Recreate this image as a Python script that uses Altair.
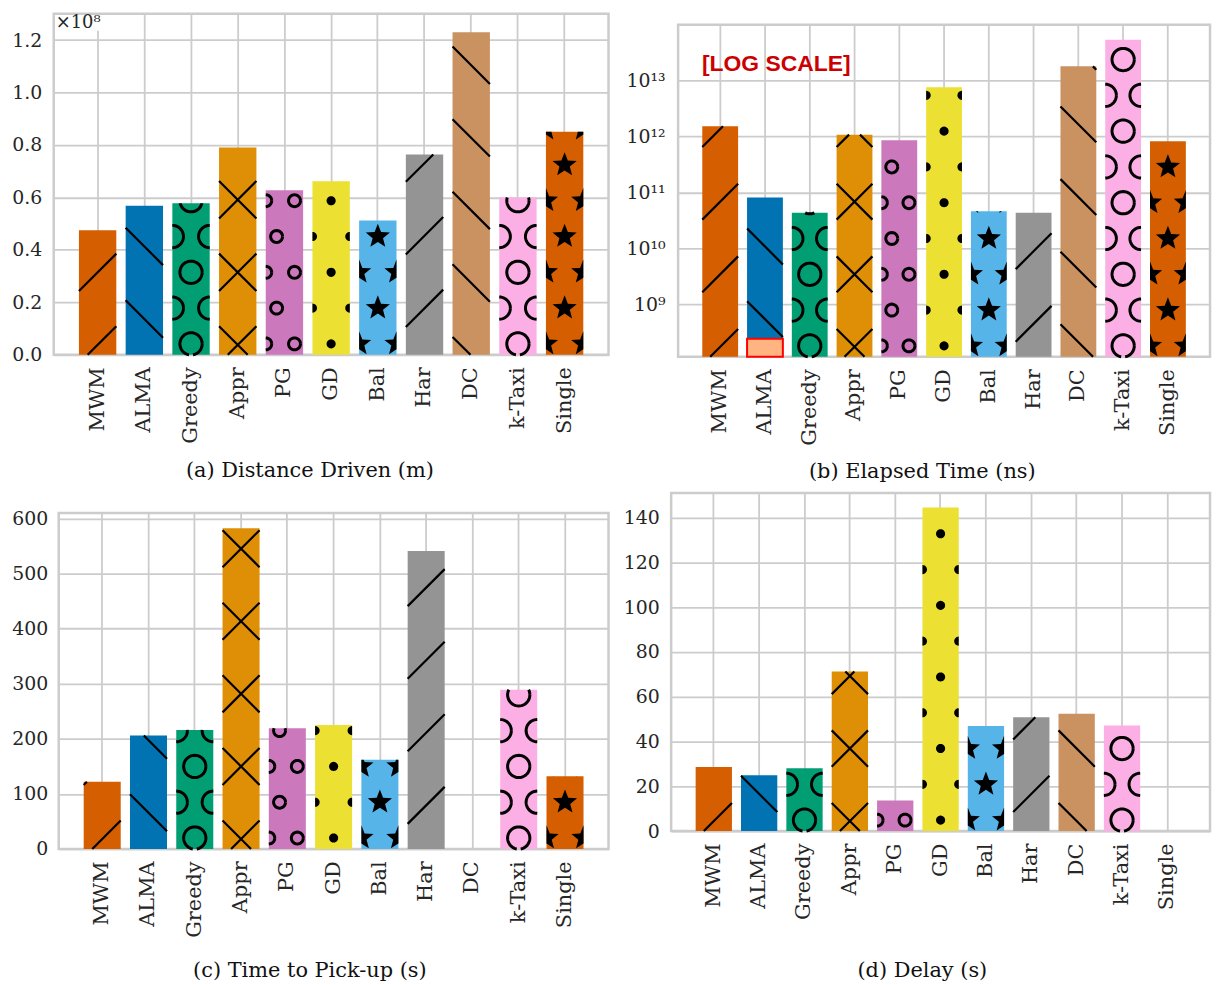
import math
import altair as alt
import pandas as pd

# ---------------- data ----------------
categories = ["MWM", "ALMA", "Greedy", "Appr", "PG", "GD", "Bal", "Har", "DC", "k-Taxi", "Single"]
bar_colors = ["#d55e00", "#0173b2", "#029e73", "#de8f05", "#cc78bc", "#ece133",
              "#56b4e9", "#949494", "#ca9161", "#fbafe4", "#d55e00"]
hatch_kinds = ["/", "\\", "O", "x", "o", ".", "*", "/", "\\", "O", "*"]

distance_1e8_m = [0.475, 0.568, 0.578, 0.79, 0.627, 0.662, 0.512, 0.764, 1.23, 0.60, 0.85]
elapsed_ns = [1.52e12, 8.1e10, 4.3e10, 1.08e12, 8.6e11, 7.6e12, 4.6e10, 4.3e10, 1.8e13, 5.4e13, 8.2e11]
alma_extra_cat = ["ALMA"]
alma_extra_ns = [2.4e8]
pickup_s = [122, 206, 216, 582, 219, 225, 162, 541, 0, 289, 132]
delay_s = [28.6, 24.9, 28.1, 71.3, 13.7, 144.5, 46.9, 50.8, 52.4, 47.2, 0]

captions = ["(a) Distance Driven (m)", "(b) Elapsed Time (ns)",
            "(c) Time to Pick-up (s)", "(d) Delay (s)"]

FONT = "DejaVu Serif"
GRID = "#cccccc"
LABEL_COLOR = "#262626"
N = len(categories)
PAD_IN, PAD_OUT = 0.2, 0.54

# hatch geometry (pixels)
LINE_SP, LINE_PHASE = 73.0, 10.0
ROW_A, ROW_B, ROW_SP = 11.0, 47.0, 72.0


def clip_segment(p, q, rect):
    xmin, xmax, ymin, ymax = rect
    x0, y0 = p
    x1, y1 = q
    dx, dy = x1 - x0, y1 - y0
    t0, t1 = 0.0, 1.0
    for pp, qq in ((-dx, x0 - xmin), (dx, xmax - x0), (-dy, y0 - ymin), (dy, ymax - y0)):
        if pp == 0:
            if qq < 0:
                return None
        else:
            t = qq / pp
            if pp < 0:
                if t > t1:
                    return None
                t0 = max(t0, t)
            else:
                if t < t0:
                    return None
                t1 = min(t1, t)
    if t1 - t0 < 1e-9:
        return None
    return (x0 + t0 * dx, y0 + t0 * dy), (x0 + t1 * dx, y0 + t1 * dy)


def clip_poly(pts, rect):
    xmin, xmax, ymin, ymax = rect

    def ix(xv):
        return lambda p, q: (xv, p[1] + (q[1] - p[1]) * (xv - p[0]) / (q[0] - p[0]))

    def iy(yv):
        return lambda p, q: (p[0] + (q[0] - p[0]) * (yv - p[1]) / (q[1] - p[1]), yv)

    tests = ((lambda p: p[0] >= xmin, ix(xmin)), (lambda p: p[0] <= xmax, ix(xmax)),
             (lambda p: p[1] >= ymin, iy(ymin)), (lambda p: p[1] <= ymax, iy(ymax)))
    for inside, inter in tests:
        if not pts:
            break
        out = []
        for k in range(len(pts)):
            cur, prev = pts[k], pts[k - 1]
            if inside(cur):
                if not inside(prev):
                    out.append(inter(prev, cur))
                out.append(cur)
            elif inside(prev):
                out.append(inter(prev, cur))
        pts = out
    return pts


def fmt(p):
    return f"{p[0]:.2f},{-p[1]:.2f}"


def polyline_path(pts, rect):
    out, last = [], None
    for a, b in zip(pts[:-1], pts[1:]):
        seg = clip_segment(a, b, rect)
        if seg is None:
            last = None
            continue
        s, e = seg
        if last is not None and abs(last[0] - s[0]) < 1e-6 and abs(last[1] - s[1]) < 1e-6:
            out.append("L" + fmt(e))
        else:
            out.append("M" + fmt(s) + "L" + fmt(e))
        last = e
    return "".join(out)


def poly_path(pts, rect):
    c = clip_poly(pts, rect)
    if len(c) < 3:
        return ""
    return "M" + "L".join(fmt(p) for p in c) + "Z"


def ellipse(cx, cy, rx, ry, n=48):
    return [(cx + rx * math.cos(2 * math.pi * k / n), cy + ry * math.sin(2 * math.pi * k / n))
            for k in range(n + 1)]


def star(cx, cy, R, r):
    pts = []
    for k in range(10):
        ang = math.pi / 2 + k * math.pi / 5
        rad = R if k % 2 == 0 else r
        pts.append((cx + rad * math.cos(ang), cy + rad * math.sin(ang)))
    return pts


def hatch_paths(kind, i, bw, bh, step):
    if bh <= 0.5:
        return "", "", ""
    half = bw / 2
    rect = (-half, half, 0.0, bh)
    lines, rings, fills = [], [], []
    if kind in ("/", "\\", "x"):
        g = 0.0 if kind == "x" else i * step
        dirs = {"/": [1], "\\": [-1], "x": [1, -1]}[kind]
        for sgn in dirs:
            for k in range(-60, 60):
                c = LINE_PHASE + LINE_SP * k
                a = (-half - 2, sgn * (-half - 2 + g) + c)
                b = (half + 2, sgn * (half + 2 + g) + c)
                seg = clip_segment(a, b, rect)
                if seg:
                    lines.append("M" + fmt(seg[0]) + "L" + fmt(seg[1]))
    else:
        rows = []
        k = 0
        while True:
            va, vb = ROW_A + ROW_SP * k, ROW_B + ROW_SP * k
            if va - 14 > bh:
                break
            rows.append(("A", va))
            if vb - 14 <= bh:
                rows.append(("B", vb))
            k += 1
        for kindrow, v in rows:
            if kind == "O":
                us = [0.0] if kindrow == "A" else [-half, half]
                for u in us:
                    rings.append(polyline_path(ellipse(u, v, 11.2, 11.2), rect))
            elif kind == "o":
                us = [0.27 * bw, -half] if kindrow == "A" else [-0.21 * bw]
                for u in us:
                    rings.append(polyline_path(ellipse(u, v, 6.0, 6.0, 32), rect))
            elif kind == ".":
                us = [0.0] if kindrow == "A" else [-half, half]
                for u in us:
                    fills.append(poly_path(ellipse(u, v, 4.6, 4.6, 24)[:-1], rect))
            elif kind == "*":
                us = [-half, half] if kindrow == "A" else [0.0]
                for u in us:
                    fills.append(poly_path(star(u, v, 12.8, 5.5), rect))
    return "".join(lines), "".join(rings), "".join(fills)


def blank():
    return pd.DataFrame({"a": [0]})


def build_panel(values, caption, width, height, vis_domain, ticks, log=False,
                x0=0.0, y0=0.0, extent=44, lab_pad=12, xlab_pad=12, cap_offset=22, cap_dx=0,
                extra_before=None, extra_after=None, label_format=None, label_expr=None):
    """Plot area is width x height; the visible frame is inset by x0 (left) and y0 (top)."""
    vis_h = height - y0
    if log:
        l0, l1 = math.log10(vis_domain[0]), math.log10(vis_domain[1])
        top = 10 ** (l1 + y0 * (l1 - l0) / vis_h)
        domain = [vis_domain[0], top]
    else:
        domain = [vis_domain[0], vis_domain[1] * height / vis_h]
    step = (width - x0) / (N - PAD_IN + 2 * PAD_OUT)
    bw = step * (1 - PAD_IN)
    base = domain[0] if log else 0.0
    rows = []
    for i, (c, v, col, k) in enumerate(zip(categories, values, bar_colors, hatch_kinds)):
        if log:
            bh = (math.log10(v) - math.log10(domain[0])) / (math.log10(domain[1]) - math.log10(domain[0])) * height
        else:
            bh = v / domain[1] * height
        ln, rg, fl = hatch_paths(k, i, bw, bh, step)
        rows.append(dict(cat=c, val=v, base=base, color=col, pline=ln, pring=rg, pfill=fl))
    df = pd.DataFrame(rows)

    xenc = alt.X("cat:N", sort=categories,
                 scale=alt.Scale(paddingInner=PAD_IN, paddingOuter=PAD_OUT, round=False,
                                 range=[x0, width]),
                 axis=alt.Axis(title=None, labelAngle=-90, labelFont=FONT, labelFontSize=21,
                               labelColor=LABEL_COLOR, labelPadding=xlab_pad, domain=False,
                               ticks=False, tickSize=0, grid=True, gridColor=GRID, gridWidth=1.8,
                               bandPosition=0.5))
    if log:
        yscale = alt.Scale(type="log", domain=domain, nice=False)
    else:
        yscale = alt.Scale(domain=domain, nice=False, zero=True)
    ax_kw = dict(title=None, values=ticks, labelFont=FONT, labelFontSize=19, labelColor=LABEL_COLOR,
                 labelPadding=lab_pad, domain=False, ticks=False, tickSize=0, grid=True,
                 gridColor=GRID, gridWidth=1.8, minExtent=extent, maxExtent=extent)
    if label_format:
        ax_kw["format"] = label_format
    if label_expr:
        ax_kw["labelExpr"] = label_expr
    yaxis = alt.Axis(**ax_kw)

    def yenc(field):
        return alt.Y(f"{field}:Q", scale=yscale, axis=yaxis)

    bars = alt.Chart(df).mark_bar(strokeWidth=0).encode(
        x=xenc, y=yenc("val"), y2=alt.Y2("base:Q"), color=alt.Color("color:N", scale=None))
    layers = []

    # white-out of the inset margins (hides grid lines outside the visible frame)
    if y0 > 0:
        layers.append(alt.Chart(blank()).mark_rect(color="white").encode(
            x=alt.value(0), x2=alt.value(width), y=alt.value(0), y2=alt.value(y0)))
    if x0 > 0:
        layers.append(alt.Chart(blank()).mark_rect(color="white").encode(
            x=alt.value(0), x2=alt.value(x0), y=alt.value(0), y2=alt.value(height)))
    # frame
    layers.append(alt.Chart(blank()).mark_rect(fillOpacity=0, stroke=GRID, strokeWidth=2.5).encode(
        x=alt.value(x0), x2=alt.value(width), y=alt.value(y0), y2=alt.value(height)))
    layers.append(bars)

    if extra_before is not None:
        layers += extra_before(xenc, yenc, domain)

    for field, filled, sw in (("pline", False, 2.2), ("pring", False, 3.0), ("pfill", True, 0)):
        sub = df[df[field] != ""]
        if len(sub) == 0:
            continue
        mk = alt.Chart(sub).mark_point(filled=filled, opacity=1, color="black",
                                       strokeWidth=sw, size=4)
        layers.append(mk.encode(x=xenc, y=yenc("base"),
                                shape=alt.Shape(f"{field}:N", scale=None)))
    if extra_after is not None:
        layers += extra_after()

    return alt.layer(*layers).properties(
        width=width, height=height,
        view=alt.ViewBackground(stroke="transparent"),
        title=alt.TitleParams(caption, orient="bottom", frame="bounds", anchor="middle",
                              font=FONT, fontSize=21, fontWeight="normal", color="#111111",
                              offset=cap_offset, dx=cap_dx))


# ---------- panel (a) ----------
def a_after():
    rect = alt.Chart(blank()).mark_rect(color="white").encode(
        x=alt.value(1.5), x2=alt.value(51), y=alt.value(1.3), y2=alt.value(17))
    txt = alt.Chart(pd.DataFrame({"t": ["×10⁸"]})).mark_text(
        align="left", baseline="middle", font=FONT, fontSize=18, color=LABEL_COLOR).encode(
        text="t:N", x=alt.value(2), y=alt.value(9))
    return [rect, txt]


panel_a = build_panel(distance_1e8_m, captions[0], 558, 343, [0, 1.3],
                      [0, 0.2, 0.4, 0.6, 0.8, 1.0, 1.2], extent=44, lab_pad=12,
                      label_format=".1f", extra_after=a_after, cap_offset=17)

# ---------- panel (b) ----------
E = "round(log(datum.value)/LN10)"
sups = {9: "⁹", 10: "¹⁰", 11: "¹¹", 12: "¹²", 13: "¹³"}
log_expr = "'10' + (" + "".join(f"{E}=={k}?'{v}':" for k, v in sups.items()) + "'')"
b_vis_domain = [1.14e8, 1e14]


def b_before(xenc, yenc, domain):
    d = pd.DataFrame({"cat": alma_extra_cat, "val": alma_extra_ns, "base": [domain[0]]})
    return [alt.Chart(d).mark_bar(fill="#ffb482", stroke="#ff0000", strokeWidth=2).encode(
        x=xenc, y=yenc("val"), y2=alt.Y2("base:Q"))]


def b_after():
    return [alt.Chart(pd.DataFrame({"t": ["[LOG SCALE]"]})).mark_text(
        align="left", baseline="middle", font="Liberation Sans", fontSize=23, fontWeight="bold",
        color="#cc0000").encode(text="t:N", x=alt.value(31), y=alt.value(51))]


panel_b = build_panel(elapsed_ns, captions[1], 542, 345, b_vis_domain,
                      [1e9, 1e10, 1e11, 1e12, 1e13], log=True, x0=7, y0=11,
                      extent=58, lab_pad=6, label_expr=log_expr,
                      extra_before=b_before, extra_after=b_after, cap_offset=16, cap_dx=10)

# ---------- panel (c) ----------
panel_c = build_panel(pickup_s, captions[2], 558, 358, [0, 610],
                      [0, 100, 200, 300, 400, 500, 600], x0=5, y0=20,
                      extent=44, lab_pad=6, cap_offset=23)

# ---------- panel (d) ----------
panel_d = build_panel(delay_s, captions[3], 542, 340, [0, 151],
                      [0, 20, 40, 60, 80, 100, 120, 140], extent=58, lab_pad=12,
                      cap_offset=41, cap_dx=10)

top = alt.hconcat(panel_a, panel_b, spacing=0)
bottom = alt.hconcat(panel_c, panel_d, spacing=0)
chart = (alt.vconcat(top, bottom, spacing=6)
         .properties(padding=0, background="white")
         .configure_view(stroke=GRID, strokeWidth=2.5))

chart.save("out.html", embed_options={"renderer": "svg", "actions": False})
